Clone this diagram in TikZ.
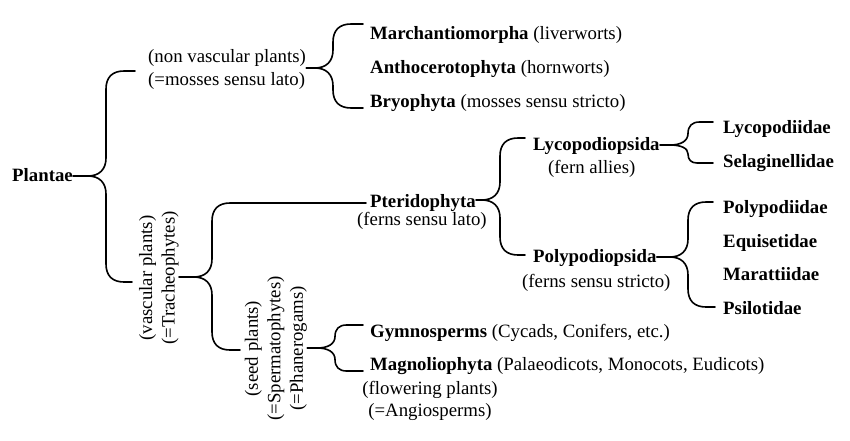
\documentclass[tikz,border=0pt]{standalone}
\usepackage{fontspec}
\setmainfont{Liberation Serif}
\tikzset{
 txt/.style={inner sep=0pt, font=\fontsize{18.8}{22.5}\selectfont, anchor=base west},
 blk/.style={inner sep=0pt, font=\fontsize{18.8}{22.5}\selectfont, align=center},
 brc/.style={line width=1.6pt, line cap=round, line join=round},
}
\newcommand{\Brace}[7]{%
 \pgfmathsetmacro{\brT}{min(18,(#3-#4)/2)}%
 \pgfmathsetmacro{\brB}{min(18,(#6-#3)/2)}%
 \draw[brc] (#1 |- #2,#3) -- ({#2-18},#3) .. controls ({#2-7},#3) and (#2,{#3-0.35*\brT}) .. (#2,{#3-\brT}) -- (#2,{#4+\brT}) .. controls (#2,{#4+0.35*\brT}) and ({#2+0.35*\brT},#4) .. ({#2+\brT},#4) -- (#5,#4);
 \draw[brc] ({#2-18},#3) .. controls ({#2-7},#3) and (#2,{#3+0.35*\brB}) .. (#2,{#3+\brB}) -- (#2,{#6-\brB}) .. controls (#2,{#6-0.35*\brB}) and ({#2+0.35*\brB},#6) .. ({#2+\brB},#6) -- (#7,#6);
}
\begin{document}
\begin{tikzpicture}[x=1pt,y=-1pt]
\useasboundingbox[fill=white] (0,0) rectangle (850,441);
\node[txt] (plantae) at (12,181) {\textbf{Plantae}};
\node[blk, align=left, anchor=west] (nonvasc) at (148,69.5) {(non vascular plants)\\(=mosses sensu lato)};
\node[txt] (march) at (370,40) {\textbf{Marchantiomorpha} (liverworts)};
\node[txt] (antho) at (370,74) {\textbf{Anthocerotophyta} (hornworts)};
\node[txt] (bryo) at (370,107) {\textbf{Bryophyta} (mosses sensu stricto)};
\node[blk, rotate=90] (trach) at (159,278) {(vascular plants)\\(=Tracheophytes)};
\node[blk, rotate=90] (seed) at (276,348.5) {(seed plants)\\(=Spermatophytes)\\(=Phanerogams)};
\node[txt] (pter) at (370,207) {\textbf{Pteridophyta}};
\node[txt] (pterb) at (357,225) {(ferns sensu lato)};
\node[txt] (lyco) at (533,150) {\textbf{Lycopodiopsida}};
\node[txt] (lycob) at (548,173) {(fern allies)};
\node[txt] (poly) at (533,262) {\textbf{Polypodiopsida}};
\node[txt] (polyb) at (522,287) {(ferns sensu stricto)};
\node[txt] (lycd) at (723,133) {\textbf{Lycopodiidae}};
\node[txt] (selg) at (723,167) {\textbf{Selaginellidae}};
\node[txt] (plpd) at (723,213) {\textbf{Polypodiidae}};
\node[txt] (equi) at (723,247) {\textbf{Equisetidae}};
\node[txt] (mara) at (723,280) {\textbf{Marattiidae}};
\node[txt] (psil) at (723,314) {\textbf{Psilotidae}};
\node[txt] (gymn) at (370,337) {\textbf{Gymnosperms} (Cycads, Conifers, etc.)};
\node[txt] (magn) at (370,370) {\textbf{Magnoliophyta} (Palaeodicots, Monocots, Eudicots)};
\node[blk] (flow) at (430,401) {(flowering plants)\\(=Angiosperms)};
\Brace{plantae.east}{106}{176}{71}{135}{282}{132}
\Brace{nonvasc.east}{333}{68}{24}{363}{108}{363}
\Brace{trach.south}{212}{277}{203}{366}{350}{240}
\Brace{seed.south}{335}{348}{325}{363}{371}{363}
\Brace{pter.east}{500}{200}{138}{525}{255}{525}
\Brace{lyco.east}{688}{145}{122}{713}{163}{713}
\Brace{poly.east}{688}{257}{202}{713}{307}{715}
\end{tikzpicture}
\end{document}
